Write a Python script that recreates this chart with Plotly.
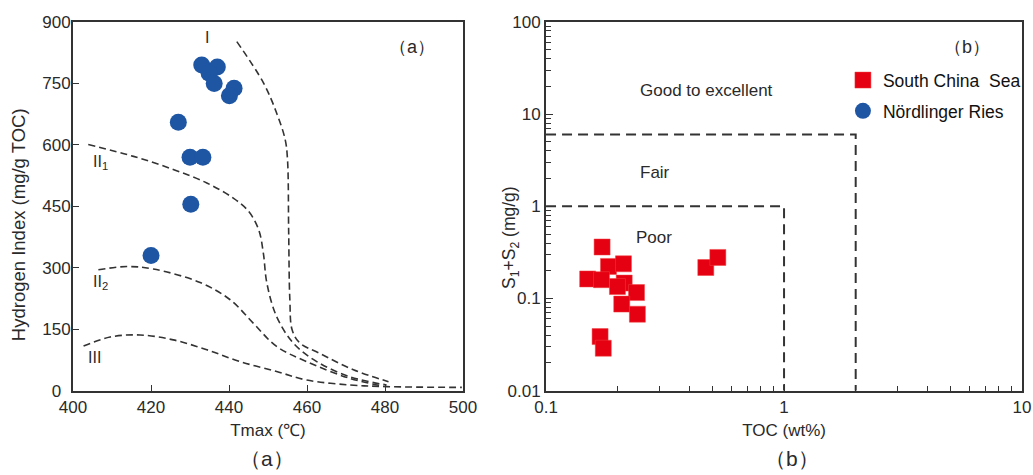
import plotly.graph_objects as go

# ---- Panel (a): Tmax vs Hydrogen Index, Nördlinger Ries samples ----
ries_tmax = [433.0, 437.0, 434.9, 436.2, 441.3, 440.1, 427.0, 430.0, 433.3, 430.2, 420.0]
ries_hi = [795, 790, 775, 750, 738, 720, 655, 570, 570, 455, 330]

# Kerogen type boundary curves
type1_t = [442.0, 448.8, 452.2, 454.4, 455.0, 455.3, 455.6, 456.2, 458.2, 463.3, 471.9, 480.9]
type1_hi = [852, 752, 678, 613, 564, 386, 222, 148, 116, 91, 51, 22]
type2a_t = [403.9, 415.5, 425.7, 434.3, 441.1, 445.0, 447.6, 448.8, 449.7, 452.2, 456.5, 462.5, 471.0, 480.4]
type2a_hi = [601, 572, 540, 507, 470, 438, 393, 336, 263, 181, 116, 71, 34, 14]
type2b_t = [406.5, 413.8, 420.6, 432.6, 440.3, 446.2, 452.2, 459.9, 471.0, 479.6]
type2b_hi = [295, 303, 297, 264, 222, 165, 108, 71, 30, 11]
type3_t = [402.7, 409.5, 417.2, 425.7, 434.3, 442.8, 452.2, 459.9, 471.0, 480.4, 499.7]
type3_hi = [109, 131, 136, 124, 100, 71, 47, 26, 14, 10, 8]

hi_ticks = [0, 150, 300, 450, 600, 750, 900]
hi_ticktext = ["0\u00a0\u00a0", "150", "300", "450", "600", "750", "900"]

# ---- Panel (b): TOC vs S1+S2, South China Sea samples ----
scs_toc = [0.172, 0.183, 0.2115, 0.1496, 0.171, 0.213, 0.1995, 0.240, 0.208, 0.242, 0.1687, 0.174, 0.469, 0.527]
scs_s1s2 = [0.362, 0.223, 0.238, 0.163, 0.160, 0.147, 0.135, 0.116, 0.087, 0.0676, 0.0386, 0.0289, 0.217, 0.279]

# Source-rock potential class limits
poor_toc, poor_s = 1.0, 1.0
fair_toc, fair_s = 2.0, 6.0

BLUE = "#1E56A4"
RED = "#E50012"
INK = "#2a2a2a"
LINE = "#333333"
FONT = "Liberation Sans, Arial, sans-serif"

fig = go.Figure()

curve_style = dict(color=LINE, width=1.6, dash="7px,4px")
for xs, ys in [(type1_t, type1_hi), (type2a_t, type2a_hi), (type2b_t, type2b_hi), (type3_t, type3_hi)]:
    fig.add_trace(go.Scatter(x=xs, y=ys, mode="lines", line=dict(curve_style, shape="spline"),
                             showlegend=False, hoverinfo="skip", xaxis="x", yaxis="y"))

fig.add_trace(go.Scatter(x=ries_tmax, y=ries_hi, mode="markers", name="Nördlinger Ries",
                         marker=dict(symbol="circle", size=17, color=BLUE),
                         xaxis="x", yaxis="y", legendrank=2, legendgroup="ries"))

box_style = dict(color=LINE, width=2, dash="10px,6px")
fig.add_trace(go.Scatter(x=[0.1, fair_toc, fair_toc], y=[fair_s, fair_s, 0.01], mode="lines",
                         line=box_style, showlegend=False, hoverinfo="skip", xaxis="x2", yaxis="y2"))
fig.add_trace(go.Scatter(x=[0.1, poor_toc, poor_toc], y=[poor_s, poor_s, 0.01], mode="lines",
                         line=box_style, showlegend=False, hoverinfo="skip", xaxis="x2", yaxis="y2"))

fig.add_trace(go.Scatter(x=scs_toc, y=scs_s1s2, mode="markers", name="South China  Sea",
                         marker=dict(symbol="square", size=16, color=RED,
                                     line=dict(color="#F04040", width=0.5)),
                         xaxis="x2", yaxis="y2", legendrank=1, legendgroup="scs"))

axis_common = dict(showline=True, linecolor=LINE, linewidth=2, mirror=True, ticks="inside",
                   tickcolor=LINE, showgrid=False, zeroline=False, automargin=False,
                   tickfont=dict(family=FONT, size=17, color=INK))

fig.update_layout(
    width=1033, height=475,
    margin=dict(l=0, r=0, t=0, b=0, autoexpand=False),
    paper_bgcolor="white", plot_bgcolor="white",
    font=dict(family=FONT, color=INK),
    xaxis=dict(axis_common, domain=[0.0707, 0.4482], range=[400, 500], dtick=20, ticklen=6,
               title=dict(text="Tmax (℃)", font=dict(size=17), standoff=8)),
    yaxis=dict(axis_common, domain=[0.1775, 0.9537], range=[0, 900], ticklen=6,
               tickvals=hi_ticks, ticktext=hi_ticktext, ticklabelstandoff=-3),
    xaxis2=dict(axis_common, domain=[0.5286, 0.9894], type="log", range=[-1, 1],
                tickvals=[0.1, 1, 10], ticktext=["0.1", "1", "10"], ticklen=7,
                minor=dict(ticks="inside", ticklen=5, tickcolor=LINE, dtick="D1", showgrid=False),
                title=dict(text="TOC (wt%)", font=dict(size=17), standoff=8)),
    yaxis2=dict(axis_common, domain=[0.1775, 0.9537], type="log", range=[-2, 2], anchor="x2",
                tickvals=[0.01, 0.1, 1, 10, 100], ticktext=["0.01", "0.1", "1", "10", "100"], ticklen=7,
                minor=dict(ticks="inside", ticklen=5, tickcolor=LINE, dtick="D1", showgrid=False)),
    legend=dict(x=0.816, y=0.869, xanchor="left", yanchor="top", bgcolor="rgba(0,0,0,0)",
                font=dict(family=FONT, size=17.5, color="#111111"), tracegroupgap=5),
)
fig.update_layout(xaxis2_anchor="y2")

def note(text, x, y, xref, yref, size=16, **kw):
    fig.add_annotation(text=text, x=x, y=y, xref=xref, yref=yref, showarrow=False,
                       font=dict(family=FONT, size=size, color=INK), **kw)

# vertical axis titles
note("Hydrogen Index (mg/g TOC)", 0.0174, 0.528, "paper", "paper", 18.5,
     textangle=-90, xanchor="center", yanchor="middle")
note("S<sub>1</sub>+S<sub>2</sub> (mg/g)", 0.4937, 0.501, "paper", "paper", 17.5,
     textangle=-90, xanchor="center", yanchor="middle")

# panel (a) labels
note("I", 434.3, 862, "x", "y", 16)
note("II<sub>1</sub>", 407, 557, "x", "y", 16)
note("II<sub>2</sub>", 407, 263, "x", "y", 16)
note("III", 405.6, 82, "x", "y", 16)
note("（a）", 487, 838, "x", "y", 18)

# panel (b) labels
note("Good to excellent", -0.325, 1.26, "x2", "y2", 17)
note("Fair", -0.542, 0.37, "x2", "y2", 17)
note("Poor", -0.546, -0.343, "x2", "y2", 17)
note("（b）", 0.768, 1.728, "x2", "y2", 18)

# panel captions
note("（a）", 0.258, 0.034, "paper", "paper", 21, xanchor="center", yanchor="middle")
note("（b）", 0.767, 0.034, "paper", "paper", 21, xanchor="center", yanchor="middle")

fig.write_html("out.html")
